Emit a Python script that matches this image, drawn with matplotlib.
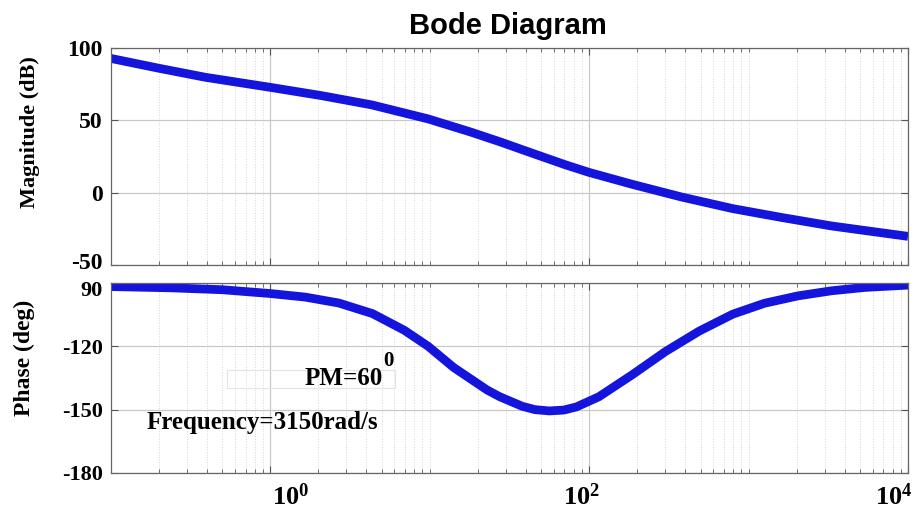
import matplotlib.pyplot as plt
from matplotlib.ticker import FixedLocator, NullFormatter
from matplotlib.patches import Rectangle
from matplotlib.transforms import ScaledTranslation

plt.rcParams['mathtext.fontset'] = 'custom'
plt.rcParams['mathtext.rm'] = 'Liberation Serif:bold'
plt.rcParams['mathtext.bf'] = 'Liberation Serif:bold'

# 幅频数据 (rad/s, dB)
w_mag = [0.1, 0.2, 0.39, 1, 2.09, 4.32, 9.77, 18.2, 27.5, 44.7, 70.8, 100, 186, 380, 794,
         1585, 3311, 10000]
mag_db = [92.8, 86.0, 79.8, 72.8, 67.1, 60.7, 51.0, 41.8, 35.2, 27.0, 19.3, 14.0, 5.8, -3.0,
          -11.0, -17.0, -23.0, -30.2]

# 相频数据 (rad/s, deg)
w_ph = [0.1, 0.24, 0.5, 1, 1.66, 2.69, 4.37, 6.92, 9.77, 14.1, 22.9, 27.5, 38.0, 45.7, 56.2,
        69.2, 83.2, 115, 186, 302, 490, 794, 1259, 2042, 3311, 5370, 10000]
phase = [-91.7, -92.3, -93.2, -95.0, -96.7, -99.5, -104.5, -112.4, -120.0, -130.0, -140.7,
         -143.9, -148.4, -150.0, -150.6, -150.2, -148.7, -143.9, -133.5, -122.4, -112.8,
         -104.8, -99.6, -96.1, -93.7, -92.1, -91.0]

mag_ticks = [-50, 0, 50, 100]
mag_labels = ['-50', '0', '50', '100']
ph_ticks = [-180, -150, -120, -90]
ph_labels = ['-180', '-150', '-120', '90']
x_ticks = [1, 100, 10000]
x_labels = [r'$\mathbf{10^{0}}$', r'$\mathbf{10^{2}}$', r'$\mathbf{10^{4}}$']

blue = '#1414dc'
serif = 'Liberation Serif'

fig = plt.figure(figsize=(9.18, 5.12), dpi=100)
ax1 = fig.add_axes([0.1209, 0.4824, 0.8682, 0.4238])
ax2 = fig.add_axes([0.1209, 0.0762, 0.8682, 0.3711])

minor = [m * 10.0 ** k for k in range(-1, 4) for m in range(1, 10)]
minor = [v for v in minor if v not in x_ticks]

for ax in (ax1, ax2):
    ax.set_xscale('log')
    ax.set_xlim(0.1, 10000)
    ax.xaxis.set_major_locator(FixedLocator(x_ticks))
    ax.xaxis.set_minor_locator(FixedLocator(minor))
    ax.xaxis.set_minor_formatter(NullFormatter())
    ax.grid(True, which='major', color='#c8c8c8', lw=0.9, ls='-')
    ax.grid(True, which='minor', axis='x', color='#d5d5d5', lw=0.7, ls=':')
    ax.tick_params(which='both', direction='in', top=True, right=True, color='#555555')
    ax.tick_params(which='major', length=5)
    ax.tick_params(which='minor', length=3)
    for s in ax.spines.values():
        s.set_color('#666666')
        s.set_linewidth(0.9)
    ax.set_axisbelow(True)

ax1.plot(w_mag, mag_db, color=blue, lw=6.3, solid_capstyle='butt', solid_joinstyle='round')
ax1.set_ylim(-50, 100)
ax1.set_yticks(mag_ticks)
ax1.set_yticklabels(mag_labels, fontfamily=serif, fontweight='bold', fontsize=17)
ax1.set_xticklabels([])
ax1.tick_params(axis='y', pad=6)

ax2.plot(w_ph, phase, color=blue, lw=6.3, solid_capstyle='butt', solid_joinstyle='round')
ax2.set_ylim(-180, -90)
ax2.set_yticks(ph_ticks)
ax2.set_yticklabels(ph_labels, fontfamily=serif, fontweight='bold', fontsize=16)
ax2.set_xticklabels(x_labels, fontsize=19)
ax2.tick_params(axis='y', pad=6)
ax2.tick_params(axis='x', pad=8)

# 刻度标签微调位置
def shift(lbl, dx, dy):
    lbl.set_transform(lbl.get_transform() + ScaledTranslation(dx / 100, dy / 100, fig.dpi_scale_trans))

for lbl, dx in zip(ax2.get_xticklabels(), [20, -8, -14]):
    shift(lbl, dx, 0)
shift(ax1.get_yticklabels()[0], 0, 4)
shift(ax2.get_yticklabels()[-1], 0, -6)

# 标注
ax2.add_patch(Rectangle((0.1455, 0.447), 0.2105, 0.095, transform=ax2.transAxes,
                        fill=False, ec='#dde4f0', lw=0.8))
ax2.text(0.341, 0.495, 'PM=60', transform=ax2.transAxes, ha='right', va='center',
         fontfamily=serif, fontweight='bold', fontsize=18)
ax2.text(0.348, 0.59, '0', transform=ax2.transAxes, ha='center', va='center',
         fontfamily=serif, fontweight='bold', fontsize=15)
ax2.text(0.045, 0.268, 'Frequency=3150rad/s', transform=ax2.transAxes, ha='left', va='center',
         fontfamily=serif, fontweight='bold', fontsize=18)

fig.text(0.553, 1 - 26 / 512, 'Bode Diagram', ha='center', va='center',
         fontfamily='Liberation Sans', fontweight='bold', fontsize=21)
fig.text(30 / 918, 1 - 132 / 512, 'Magnitude (dB)', rotation=90, ha='center', va='center',
         fontfamily=serif, fontweight='bold', fontsize=16)
fig.text(24 / 918, 1 - 358 / 512, 'Phase (deg)', rotation=90, ha='center', va='center',
         fontfamily=serif, fontweight='bold', fontsize=17)

fig.savefig('out.png', dpi=100)
